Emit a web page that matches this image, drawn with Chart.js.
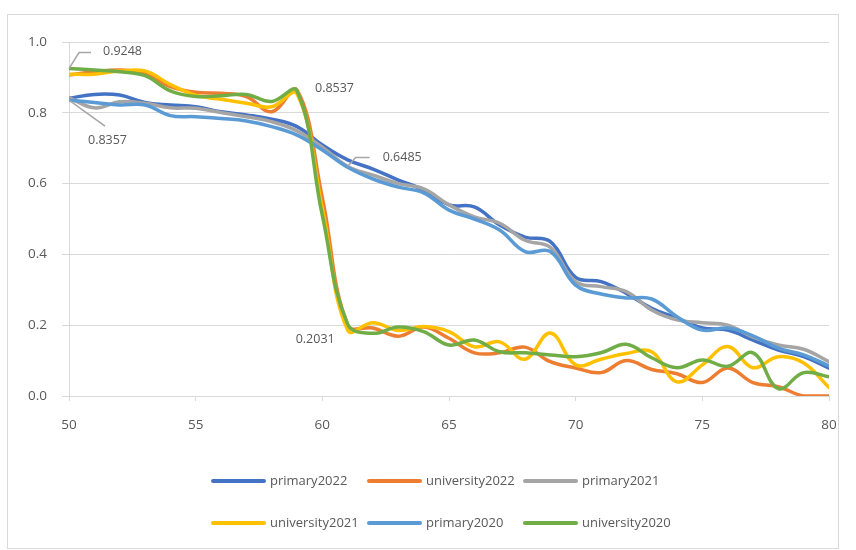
<!DOCTYPE html>
<html>
<head>
<meta charset="utf-8">
<script src="https://cdn.jsdelivr.net/npm/chart.js@4/dist/chart.umd.min.js"></script>
<style>
html,body{margin:0;padding:0;background:#fff;}
#wrap{position:relative;width:856px;height:550px;}
</style>
</head>
<body>
<div id="wrap"><canvas id="c" width="856" height="550"></canvas></div>
<script>
const categories = [50,51,52,53,54,55,56,57,58,59,60,61,62,63,64,65,66,67,68,69,70,71,72,73,74,75,76,77,78,79,80];
const seriesNames = ['primary2022','university2022','primary2021','university2021','primary2020','university2020'];
const seriesColors = ['#4472C4','#ED7D31','#A5A5A5','#FFC000','#5B9BD5','#70AD47'];

const primary2022 = [0.841,0.852,0.850,0.829,0.822,0.817,0.803,0.794,0.782,0.761,0.709,0.667,0.641,0.610,0.582,0.540,0.534,0.483,0.449,0.436,0.335,0.323,0.290,0.248,0.220,0.192,0.186,0.158,0.130,0.111,0.079];
const university2022 = [0.907,0.916,0.921,0.911,0.874,0.858,0.855,0.846,0.803,0.864,0.560,0.200,0.192,0.169,0.195,0.163,0.122,0.122,0.138,0.097,0.079,0.066,0.100,0.075,0.063,0.038,0.079,0.038,0.026,0.000,0.000];
const primary2021 = [0.843,0.814,0.831,0.827,0.814,0.813,0.801,0.789,0.775,0.749,0.703,0.6485,0.624,0.600,0.585,0.540,0.506,0.488,0.440,0.420,0.323,0.309,0.295,0.243,0.215,0.207,0.200,0.166,0.144,0.132,0.097];
const university2021 = [0.909,0.909,0.918,0.918,0.880,0.850,0.838,0.827,0.817,0.8537,0.530,0.186,0.207,0.185,0.196,0.182,0.139,0.153,0.104,0.178,0.088,0.104,0.120,0.125,0.040,0.088,0.140,0.080,0.111,0.093,0.024];
const primary2020 = [0.8357,0.829,0.822,0.822,0.792,0.789,0.784,0.777,0.761,0.737,0.695,0.646,0.613,0.590,0.574,0.525,0.500,0.469,0.408,0.408,0.313,0.288,0.277,0.274,0.224,0.186,0.192,0.170,0.135,0.116,0.085];
const university2020 = [0.9248,0.921,0.916,0.905,0.862,0.846,0.848,0.852,0.832,0.862,0.510,0.2031,0.177,0.195,0.182,0.144,0.158,0.125,0.122,0.116,0.111,0.122,0.146,0.108,0.080,0.102,0.084,0.122,0.021,0.066,0.054];

const yTicks = [0,0.2,0.4,0.6,0.8,1.0];
const xTicks = [50,55,60,65,70,75,80];

// data labels: [series index, x category]
const labelPoints = [[5,50],[4,50],[3,59],[2,61],[5,61]];

const allSeries = [primary2022,university2022,primary2021,university2021,primary2020,university2020];

const FONT = "'Open Sans', 'Noto Sans', sans-serif";
const TXT = '#595959';

const datasets = allSeries.map((arr,i)=>({
  label: seriesNames[i],
  data: arr.map((v,j)=>({x:categories[j], y:v})),
  borderColor: seriesColors[i],
  backgroundColor: seriesColors[i],
  borderWidth: 3.5,
  pointRadius: 0,
  tension: 0.4,
  fill: false,
  order: seriesNames.length - i,
  borderCapStyle: 'round',
  borderJoinStyle: 'round'
}));

// label layout relative to the data point (dx/dy for text, leader path)
const labelLayout = {
  '5_50': {tx:34, ty:-17, leader:[[10,-16],[22,-16]]},
  '4_50': {tx:19, ty:40, leader:[[36,26]]},
  '3_59': {tx:18, ty:-5, leader:null},
  '2_61': {tx:35, ty:-9, leader:[[8,-9],[22,-9]]},
  '5_61': {tx:-52, ty:15, leader:null}
};

const plugin = {
  id:'extras',
  beforeDraw(chart){
    const c = chart.ctx;
    c.save();
    c.fillStyle = '#fff';
    c.fillRect(0,0,chart.width,chart.height);
    c.strokeStyle = '#d9d9d9';
    c.lineWidth = 1;
    c.strokeRect(7.5,14.5,831,534);
    c.restore();
  },
  afterDatasetsDraw(chart){
    const c = chart.ctx;
    const xs = chart.scales.x, ys = chart.scales.y;
    c.save();
    c.font = '12.5px ' + FONT;
    c.fillStyle = TXT;
    c.textBaseline = 'middle';
    c.textAlign = 'left';
    labelPoints.forEach(([si,xc])=>{
      const idx = categories.indexOf(xc);
      const v = allSeries[si][idx];
      const px = xs.getPixelForValue(xc), py = ys.getPixelForValue(v);
      const lay = labelLayout[si+'_'+xc];
      if (lay.leader){
        c.strokeStyle = '#A6A6A6';
        c.lineWidth = 1.5;
        c.beginPath();
        c.moveTo(px,py);
        lay.leader.forEach(([dx,dy])=>c.lineTo(px+dx,py+dy));
        c.stroke();
      }
      c.fillText(v.toFixed(4), px+lay.tx, py+lay.ty);
    });
    c.restore();
  },
  afterDraw(chart){
    const c = chart.ctx;
    c.save();
    c.font = '13px ' + FONT;
    c.textBaseline = 'middle';
    c.textAlign = 'left';
    const cols = [212,368,524];
    const rows = [481,523];
    chart.data.datasets.forEach((ds,i)=>{
      const x = cols[i%3], y = rows[Math.floor(i/3)];
      c.strokeStyle = ds.borderColor;
      c.lineWidth = 4;
      c.lineCap = 'round';
      c.beginPath();
      c.moveTo(x+1,y); c.lineTo(x+52,y);
      c.stroke();
      c.fillStyle = TXT;
      c.fillText(ds.label, x+58, y);
    });
    c.restore();
  }
};

new Chart(document.getElementById('c'), {
  type:'line',
  data:{datasets},
  options:{
    responsive:false,
    devicePixelRatio:1,
    animation:false,
    layout:{padding:{left:0,top:42,right:27,bottom:0}},
    plugins:{legend:{display:false},tooltip:{enabled:false}},
    scales:{
      x:{
        type:'linear', min:50, max:80,
        afterFit(s){ s.height = 154; },
        afterBuildTicks(s){ s.ticks = xTicks.map(v=>({value:v})); },
        grid:{drawOnChartArea:false, drawTicks:true, tickLength:5, color:'#d9d9d9'},
        border:{display:true,color:'#d9d9d9'},
        ticks:{padding:16, color:TXT, font:{family:FONT,size:13.5}, maxRotation:0, callback:v=>String(v)}
      },
      y:{
        min:0, max:1.0,
        afterFit(s){ s.width = 69; },
        afterBuildTicks(s){ s.ticks = yTicks.map(v=>({value:v})); },
        grid:{color:'#d9d9d9', tickLength:7, drawTicks:true},
        border:{display:true,color:'#d9d9d9'},
        ticks:{padding:15, color:TXT, font:{family:FONT,size:13.5}, callback:v=>Number(v).toFixed(1)}
      }
    }
  },
  plugins:[plugin]
});
</script>
</body>
</html>
